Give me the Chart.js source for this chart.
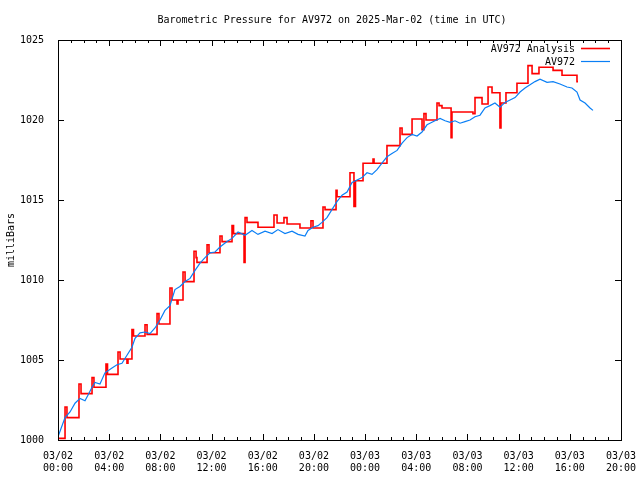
<!DOCTYPE html>
<html>
<head>
<meta charset="utf-8">
<title>Barometric Pressure for AV972</title>
<script src="https://cdn.jsdelivr.net/npm/chart.js@4.4.1/dist/chart.umd.min.js"></script>
<style>
  body { margin: 0; background: #fff; }
</style>
</head>
<body>
<canvas id="myChart" width="640" height="480"></canvas>
<script>
'use strict';

const chartTitle = 'Barometric Pressure for AV972 on 2025-Mar-02 (time in UTC)';
const yTitle = 'milliBars';

// x tick labels, one every 4 hours from 03/02 00:00
const tickDays = ['03/02', '03/02', '03/02', '03/02', '03/02', '03/02', '03/03', '03/03', '03/03', '03/03', '03/03', '03/03'];
const tickTimes = ['00:00', '04:00', '08:00', '12:00', '16:00', '20:00', '00:00', '04:00', '08:00', '12:00', '16:00', '20:00'];

// station readings (hours since 03/02 00:00, mb)
const stationHours = [
  0, 0.55, 0.94, 1.33, 1.72, 2.11, 2.34, 2.66, 2.89, 3.28,
  3.67, 4.22, 4.61, 5.0, 5.39, 5.78, 6.02, 6.41, 6.8, 7.19,
  7.58, 7.97, 8.36, 8.75, 9.14, 9.53, 9.93, 10.32, 10.71, 11.1,
  11.49, 11.88, 12.27, 12.66, 13.21, 13.6, 14.07, 14.62, 15.16, 15.63,
  16.18, 16.73, 17.19, 17.74, 18.29, 18.76, 19.3, 19.54, 19.93, 20.32,
  20.63, 21.02, 21.41, 21.8, 22.2, 22.59, 22.98, 23.37, 23.76, 24.15,
  24.54, 24.93, 25.32, 25.71, 26.1, 26.5, 26.89, 27.28, 27.67, 28.06,
  28.45, 28.84, 29.07, 29.46, 29.86, 30.25, 30.64, 31.03, 31.42, 31.81,
  32.2, 32.59, 32.98, 33.37, 33.76, 34.15, 34.54, 34.94, 35.33, 35.72,
  36.11, 36.5, 36.89, 37.28, 37.67, 38.22, 38.69, 39.23, 39.78, 40.17,
  40.56, 40.8, 41.19, 41.58, 41.81
];
const stationPressure = [
  1000.2, 1001.4, 1001.75, 1002.3, 1002.6, 1002.45, 1002.8, 1003.3, 1003.6, 1003.5,
  1004.2, 1004.5, 1004.7, 1004.8, 1005.3, 1005.8, 1006.35, 1006.7, 1006.75, 1006.65,
  1007.0, 1007.5, 1008.1, 1008.4, 1009.4, 1009.6, 1009.9, 1010.1, 1010.6, 1011.06,
  1011.4, 1011.7, 1011.75, 1012.06, 1012.4, 1012.6, 1013.0, 1012.8, 1013.1, 1012.85,
  1013.05, 1012.9, 1013.15, 1012.9, 1013.05, 1012.85, 1012.75, 1013.1, 1013.3, 1013.4,
  1013.6, 1013.9, 1014.4, 1014.9, 1015.3, 1015.5, 1016.1, 1016.25, 1016.4, 1016.7,
  1016.6, 1016.9, 1017.3, 1017.7, 1017.9, 1018.1, 1018.56, 1018.9, 1019.1, 1019.0,
  1019.25, 1019.7, 1019.8, 1019.95, 1020.1, 1019.95, 1019.85, 1019.95, 1019.8, 1019.9,
  1020.0, 1020.2, 1020.3, 1020.75, 1020.9, 1021.06, 1020.8, 1021.1, 1021.25, 1021.4,
  1021.75, 1022.0, 1022.2, 1022.4, 1022.55, 1022.35, 1022.4, 1022.25, 1022.06, 1022.0,
  1021.75, 1021.25, 1021.06, 1020.75, 1020.6
];

// analysis values, each held until the next one (steps)
const analysisHours = [
  0, 0.55, 0.70, 1.64, 1.80, 2.66, 2.81, 3.75, 3.87, 4.69,
  4.85, 5.39, 5.47, 5.78, 5.90, 6.80, 6.96, 7.74, 7.89, 8.75,
  8.91, 9.30, 9.38, 9.77, 9.93, 10.63, 10.79, 10.86, 11.65, 11.80,
  12.66, 12.82, 13.60, 13.72, 14.54, 14.62, 14.77, 15.63, 16.88, 17.12,
  17.66, 17.90, 18.91, 19.77, 19.93, 20.71, 20.87, 21.73, 21.81, 22.82,
  23.13, 23.25, 23.84, 24.62, 24.70, 25.71, 26.73, 26.89, 27.67, 28.45,
  28.60, 28.76, 29.62, 29.78, 30.01, 30.72, 30.79, 32.43, 32.59, 33.14,
  33.61, 33.92, 34.54, 34.62, 35.01, 35.87, 36.73, 37.05, 37.59, 38.69,
  39.39, 40.56, 40.64
];
const analysisPressure = [
  1000.1, 1002.06, 1001.4, 1003.5, 1002.9, 1003.9, 1003.3, 1004.75, 1004.1, 1005.5,
  1005.06, 1004.8, 1005.06, 1006.9, 1006.5, 1007.2, 1006.6, 1007.9, 1007.25, 1009.5,
  1008.75, 1008.5, 1008.75, 1010.5, 1009.9, 1011.8, 1011.4, 1011.1, 1012.2, 1011.7,
  1012.75, 1012.4, 1013.4, 1012.9, 1011.1, 1013.9, 1013.6, 1013.3, 1014.06, 1013.56,
  1013.9, 1013.5, 1013.25, 1013.7, 1013.25, 1014.56, 1014.4, 1015.6, 1015.2, 1016.7,
  1014.6, 1016.2, 1017.3, 1017.56, 1017.3, 1018.4, 1019.5, 1019.1, 1020.06, 1019.4,
  1020.4, 1020.0, 1021.06, 1020.9, 1020.75, 1018.9, 1020.5, 1020.4, 1021.4, 1021.0,
  1022.06, 1021.7, 1019.5, 1021.06, 1021.7, 1022.3, 1023.4, 1022.9, 1023.3, 1023.1,
  1022.8, 1022.4, 1022.4
];

const font = '"DejaVu Sans Mono", "Liberation Mono", monospace';

function toPoints(xs, ys) {
  let pts = [];
  for (let i = 0; i < xs.length; i++) {
    pts.push({ x: xs[i], y: ys[i] });
  }
  return pts;
}

// gnuplot-like frame, inward ticks, title, y label and legend
const gnuplotLook = {
  id: 'gnuplotLook',
  afterDraw(chart) {
    const ctx = chart.ctx;
    const a = chart.chartArea;
    const xs = chart.scales.x;
    const ys = chart.scales.y;
    ctx.save();
    ctx.strokeStyle = '#000';
    ctx.lineWidth = 1;
    ctx.strokeRect(Math.round(a.left) + 0.5, Math.round(a.top) + 0.5,
      Math.round(a.right - a.left), Math.round(a.bottom - a.top));

    ctx.beginPath();
    for (let h = xs.min; h <= xs.max; h++) {
      let px = Math.round(xs.getPixelForValue(h)) + 0.5;
      let len = (h % 4 === 0) ? 6 : 3;
      ctx.moveTo(px, a.bottom);
      ctx.lineTo(px, a.bottom - len);
      ctx.moveTo(px, a.top);
      ctx.lineTo(px, a.top + len);
    }
    for (let v = ys.min; v <= ys.max; v += 5) {
      let py = Math.round(ys.getPixelForValue(v)) + 0.5;
      ctx.moveTo(a.left, py);
      ctx.lineTo(a.left + 6, py);
      ctx.moveTo(a.right, py);
      ctx.lineTo(a.right - 6, py);
    }
    ctx.stroke();

    ctx.fillStyle = '#000';
    ctx.font = '10px ' + font;
    ctx.textAlign = 'center';
    ctx.textBaseline = 'middle';
    ctx.fillText(chartTitle, 332, 20);

    ctx.save();
    ctx.translate(11, 240);
    ctx.rotate(-Math.PI / 2);
    ctx.fillText(yTitle, 0, 0);
    ctx.restore();

    // legend, top right inside the plot
    ctx.textAlign = 'right';
    let sets = chart.data.datasets.slice().sort((p, q) => q.order - p.order);
    for (let i = 0; i < sets.length; i++) {
      let ly = a.top + 9 + i * 13;
      ctx.fillStyle = '#000';
      ctx.fillText(sets[i].label, a.right - 46, ly);
      ctx.strokeStyle = sets[i].borderColor;
      ctx.lineWidth = sets[i].borderWidth;
      ctx.beginPath();
      ctx.moveTo(a.right - 40, ly - 0.5);
      ctx.lineTo(a.right - 11, ly - 0.5);
      ctx.stroke();
    }
    ctx.restore();
  }
};

const ctx = document.getElementById('myChart').getContext('2d');

let config = {
  type: 'line',
  data: {
    datasets: [{
      label: 'AV972 Analysis',
      data: toPoints(analysisHours, analysisPressure),
      borderColor: '#ff0000',
      borderWidth: 1.6,
      stepped: 'before',
      pointRadius: 0,
      fill: false,
      order: 2
    },
    {
      label: 'AV972',
      data: toPoints(stationHours, stationPressure),
      borderColor: '#0a7ff5',
      borderWidth: 1.2,
      tension: 0,
      pointRadius: 0,
      fill: false,
      order: 1
    }]
  },
  options: {
    responsive: false,
    animation: false,
    devicePixelRatio: 1,
    layout: { padding: { top: 40, right: 19, left: 0, bottom: 0 } },
    plugins: {
      legend: { display: false },
      title: { display: false },
      tooltip: { enabled: false }
    },
    scales: {
      x: {
        type: 'linear',
        min: 0,
        max: 44,
        grid: { display: false },
        border: { display: false },
        ticks: {
          stepSize: 4,
          padding: 2,
          maxRotation: 0,
          autoSkip: false,
          color: '#000',
          font: { family: font, size: 10, lineHeight: 1.2 },
          callback: (v) => [tickDays[v / 4], tickTimes[v / 4]]
        },
        afterFit(scale) {
          scale.height = 40;
          scale.paddingLeft = 0;
          scale.paddingRight = 0;
        }
      },
      y: {
        min: 1000,
        max: 1025,
        grid: { display: false },
        border: { display: false },
        ticks: {
          stepSize: 5,
          padding: 6,
          color: '#000',
          font: { family: font, size: 10 },
          callback: (v) => String(v)
        },
        afterFit(scale) {
          scale.width = 58;
          scale.paddingTop = 0;
          scale.paddingBottom = 0;
        }
      }
    }
  },
  plugins: [gnuplotLook]
};

const myChart = new Chart(ctx, config);
</script>
</body>
</html>
